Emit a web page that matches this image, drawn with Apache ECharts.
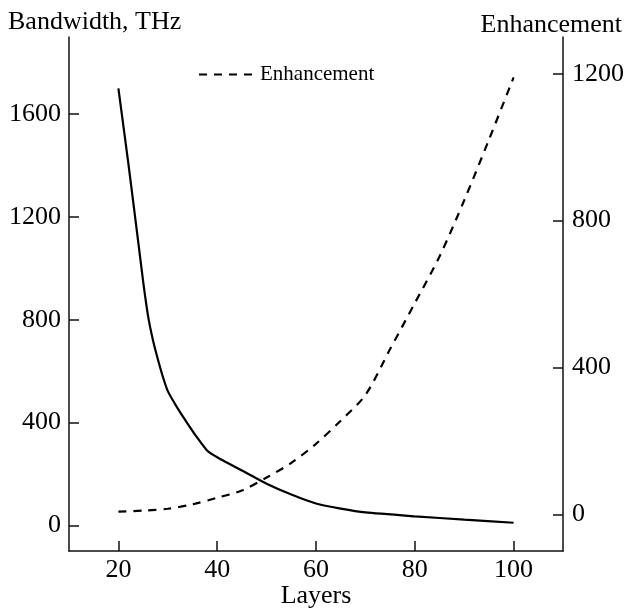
<!DOCTYPE html>
<html>
<head>
<meta charset="utf-8">
<script src="https://cdn.jsdelivr.net/npm/echarts@6/dist/echarts.min.js"></script>
<style>
html,body{margin:0;padding:0;background:#fff;}
#chart{width:626px;height:608px;}
</style>
</head>
<body>
<div id="chart"></div>
<script>
const layersBW = [20, 22, 24, 25, 26, 27, 28, 29, 30, 32, 34, 36, 38, 40, 45, 50, 55, 60, 65, 70, 80, 90, 100];
const bandwidth = [1700, 1410, 1105, 950, 815, 720, 645, 578, 522, 455, 396, 340, 290, 265, 213, 162, 120, 85, 65, 50, 35, 22, 10];
const layersEnh = [20, 25, 30, 35, 40, 45, 50, 55, 60, 65, 70, 75, 80, 85, 90, 95, 100];
const enhancement = [7, 10, 15, 27, 45, 65, 100, 140, 192, 255, 325, 450, 575, 702, 855, 1020, 1190];
const xTicks = [20, 40, 60, 80, 100];
const leftTicks = [0, 400, 800, 1200, 1600];
const rightTicks = [0, 400, 800, 1200];

const FONT = 'Liberation Serif';
const chart = echarts.init(document.getElementById('chart'));
const axisLine = {show: true, onZero: false, lineStyle: {color: '#111', width: 1.5}};
const axisTick = (vals) => ({show: true, inside: true, length: 10, lineStyle: {color: '#111', width: 1.5}, customValues: vals});
const axisLabel = (vals, margin) => ({show: true, color: '#000', fontFamily: FONT, fontSize: 26, margin: margin, customValues: vals, formatter: (v) => String(v)});

chart.setOption({
  animation: false,
  backgroundColor: '#fff',
  grid: {left: 69, right: 63, top: 37, bottom: 57, containLabel: false, outerBoundsMode: 'none'},
  legend: {
    data: ['Enhancement'],
    left: 193, top: 59,
    itemWidth: 56, itemHeight: 14,
    itemStyle: {color: 'rgba(0,0,0,0)', borderWidth: 0},
    textStyle: {fontFamily: FONT, fontSize: 21, color: '#000'}
  },
  xAxis: {
    type: 'value', min: 10, max: 110,
    name: 'Layers', nameLocation: 'middle', nameGap: 32, nameMoveOverlap: false,
    nameTextStyle: {fontFamily: FONT, fontSize: 26, color: '#000'},
    axisLine: axisLine, axisTick: axisTick(xTicks), axisLabel: axisLabel(xTicks, 6),
    splitLine: {show: false}
  },
  yAxis: [
    {
      type: 'value', min: -100, max: 1900, position: 'left',
      axisLine: axisLine, axisTick: axisTick(leftTicks), axisLabel: axisLabel(leftTicks, 8),
      splitLine: {show: false}
    },
    {
      type: 'value', min: -100, max: 1300, position: 'right',
      axisLine: axisLine, axisTick: axisTick(rightTicks), axisLabel: axisLabel(rightTicks, 9),
      splitLine: {show: false}
    }
  ],
  graphic: [
    {type: 'text', left: 8, top: 9, style: {text: 'Bandwidth, THz', fontFamily: FONT, fontSize: 26, fill: '#000'}},
    {type: 'text', right: 4, top: 12, style: {text: 'Enhancement', fontFamily: FONT, fontSize: 26, fill: '#000'}}
  ],
  series: [
    {
      name: 'Bandwidth', type: 'line', yAxisIndex: 0, symbol: 'none', smooth: 0.2,
      data: layersBW.map((x, i) => [x, bandwidth[i]]),
      lineStyle: {color: '#000', width: 2.2}, itemStyle: {color: '#000'}
    },
    {
      name: 'Enhancement', type: 'line', yAxisIndex: 1, symbol: 'none', smooth: 0.3,
      data: layersEnh.map((x, i) => [x, enhancement[i]]),
      lineStyle: {color: '#000', width: 2.2, type: [8, 7]}, itemStyle: {color: '#000'}
    }
  ]
});
</script>
</body>
</html>
